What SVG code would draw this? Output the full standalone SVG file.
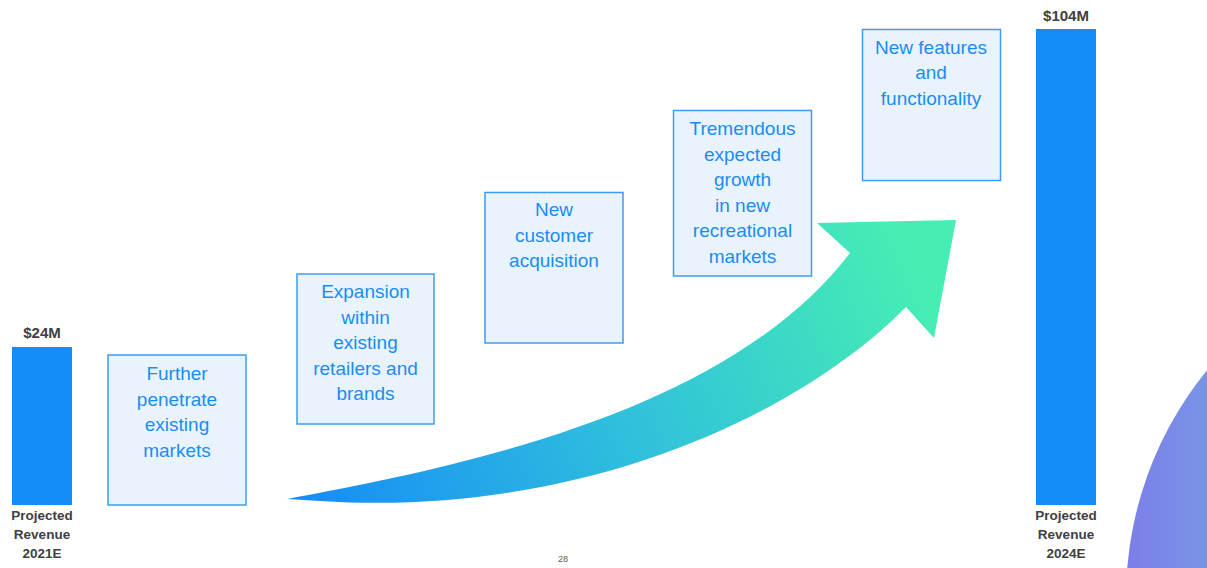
<svg xmlns="http://www.w3.org/2000/svg" width="1207" height="568" viewBox="0 0 1207 568">
  <style>
    .box { fill: #e9f3fd; stroke: #3d9cf5; stroke-width: 1.5; }
    .boxtext { font-family: "Liberation Sans", Arial, sans-serif; font-size: 19px; fill: #1a8cf5; text-anchor: middle; }
    .bar { fill: #158df8; }
    .lbl { font-family: "Liberation Sans", Arial, sans-serif; font-size: 13.5px; font-weight: bold; fill: #404040; text-anchor: middle; }
    .val { font-size: 15px; }
    .page { font-family: "Liberation Sans", Arial, sans-serif; font-size: 9px; fill: #595959; text-anchor: middle; }
  </style>
  <defs>
    <linearGradient id="arrowGrad" gradientUnits="userSpaceOnUse" x1="300" y1="500" x2="900" y2="230">
      <stop offset="0" stop-color="#168cf6"/>
      <stop offset="0.5" stop-color="#30c0dc"/>
      <stop offset="1" stop-color="#46eeb3"/>
    </linearGradient>
    <linearGradient id="discGrad" gradientUnits="userSpaceOnUse" x1="1126" y1="0" x2="1207" y2="0">
      <stop offset="0" stop-color="#7c7ee9"/>
      <stop offset="1" stop-color="#7894e6"/>
    </linearGradient>
  </defs>

  <rect width="1207" height="568" fill="#ffffff"/>

  <!-- decorative disc in the corner -->
  <circle cx="1487" cy="598" r="361" fill="url(#discGrad)"/>

  <!-- revenue bars -->
  <g id="bar-2021">
    <text class="lbl val" x="42" y="338">$24M</text>
    <rect class="bar" x="12" y="347" width="60" height="158"/>
    <text class="lbl" x="42" y="520">Projected</text>
    <text class="lbl" x="42" y="539">Revenue</text>
    <text class="lbl" x="42" y="558">2021E</text>
  </g>
  <g id="bar-2024">
    <text class="lbl val" x="1066" y="21">$104M</text>
    <rect class="bar" x="1036" y="29" width="60" height="476"/>
    <text class="lbl" x="1066" y="520">Projected</text>
    <text class="lbl" x="1066" y="539">Revenue</text>
    <text class="lbl" x="1066" y="558">2024E</text>
  </g>

  <!-- growth arrow -->
  <g id="connectors">
    <path fill="url(#arrowGrad)" d="M287,499 C470,465 730,410 850,253 L817,223 L956,220 L934,338 L906,307 C800,415 580,518 320,501 Z"/>
  </g>

  <!-- growth drivers -->
  <g id="driver-penetrate">
    <rect class="box" x="108" y="355" width="138" height="150"/>
    <text class="boxtext" x="177" y="380">Further</text>
    <text class="boxtext" x="177" y="405.5">penetrate</text>
    <text class="boxtext" x="177" y="431">existing</text>
    <text class="boxtext" x="177" y="456.5">markets</text>
  </g>
  <g id="driver-expansion">
    <rect class="box" x="297" y="274" width="137" height="150"/>
    <text class="boxtext" x="365.5" y="298">Expansion</text>
    <text class="boxtext" x="365.5" y="323.5">within</text>
    <text class="boxtext" x="365.5" y="349">existing</text>
    <text class="boxtext" x="365.5" y="374.5">retailers and</text>
    <text class="boxtext" x="365.5" y="400">brands</text>
  </g>
  <g id="driver-acquisition">
    <rect class="box" x="485" y="192.5" width="138" height="150.5"/>
    <text class="boxtext" x="554" y="216">New</text>
    <text class="boxtext" x="554" y="241.5">customer</text>
    <text class="boxtext" x="554" y="267">acquisition</text>
  </g>
  <g id="driver-recreational">
    <rect class="box" x="673.5" y="110.5" width="138" height="165.5"/>
    <text class="boxtext" x="742.5" y="135">Tremendous</text>
    <text class="boxtext" x="742.5" y="160.5">expected</text>
    <text class="boxtext" x="742.5" y="186">growth</text>
    <text class="boxtext" x="742.5" y="211.5">in new</text>
    <text class="boxtext" x="742.5" y="237">recreational</text>
    <text class="boxtext" x="742.5" y="262.5">markets</text>
  </g>
  <g id="driver-features">
    <rect class="box" x="862.5" y="29.5" width="138" height="151"/>
    <text class="boxtext" x="931" y="53.5">New features</text>
    <text class="boxtext" x="931" y="79">and</text>
    <text class="boxtext" x="931" y="104.5">functionality</text>
  </g>

  <text class="page" x="563" y="562">28</text>
</svg>
